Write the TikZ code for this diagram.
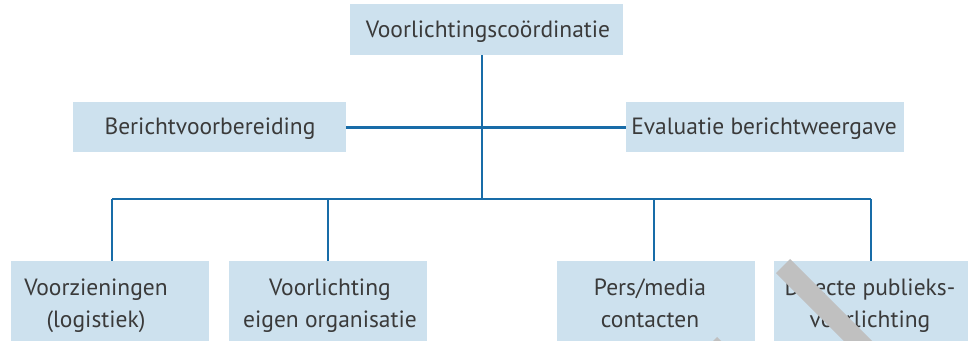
\documentclass[tikz,border=0pt]{standalone}
\usepackage{fontspec}
\setmainfont{PT Sans}
\definecolor{boxfill}{RGB}{205,225,238}
\definecolor{linkblue}{RGB}{24,108,168}
\definecolor{txt}{RGB}{58,58,58}
\definecolor{band}{RGB}{192,192,192}
\begin{document}
\begin{tikzpicture}[x=1pt,y=-1pt,
  box/.style={fill=boxfill, inner sep=0pt, anchor=north west},
  lbl/.style={text=txt, font=\fontsize{23.5}{32}\selectfont, align=center, inner sep=0pt},
  link/.style={draw=linkblue, line width=2.8pt}]
\useasboundingbox (0,0) rectangle (968,340);

% boxes
\node[box, minimum width=273pt, minimum height=51pt] (top) at (350,4) {};
\node[box, minimum width=273pt, minimum height=50pt] (prep) at (73,102) {};
\node[box, minimum width=278pt, minimum height=50pt] (eval) at (626,102) {};
\node[box, minimum width=198pt, minimum height=82pt] (b1) at (11,261) {};
\node[box, minimum width=198pt, minimum height=82pt] (b2) at (229,261) {};
\node[box, minimum width=198pt, minimum height=82pt] (b3) at (557,261) {};
\node[box, minimum width=198pt, minimum height=82pt] (b4) at (774,261) {};

% labels
\node[lbl] (ttop) at (488,30.6) {\strut Voorlichtingscoördinatie};
\node[lbl] (tprep) at (210,127.6) {\strut Berichtvoorbereiding};
\node[lbl] (teval) at (764,127.6) {\strut Evaluatie berichtweergave};
\node[lbl] (tb1) at (96,304.6) {\strut Voorzieningen\\\strut (logistiek)};
\node[lbl] (tb2) at (330,304.6) {\strut Voorlichting\\\strut eigen organisatie};
\node[lbl] (tb3) at (650,304.6) {\strut Pers/media\\\strut contacten};
\node[lbl] (tb4) at (870,304.6) {\strut Directe publieks-\\\strut voorlichting};

% connectors
\coordinate (hub) at (482,199);
\coordinate (l1) at (112,199);
\coordinate (l2) at (328,199);
\coordinate (l3) at (654,199);
\coordinate (l4) at (871,199);
\draw[link] (top.south -| hub) -- (hub);
\draw[link] (prep.east) -- (eval.west);
\draw[link] (l1) -- (l4);
\draw[link] (l1) -- (l1 |- b1.north);
\draw[link] (l2) -- (l2 |- b2.north);
\draw[link] (l3) -- (l3 |- b3.north);
\draw[link] (l4) -- (l4 |- b4.north);

% grey diagonal bands
\begin{scope}
\clip (0,0) rectangle (968,340);
\draw[band, line width=20pt] (783,266) -- (903,386);
\draw[band, line width=20pt] (710,344) -- (790,424);
\end{scope}
\end{tikzpicture}
\end{document}
